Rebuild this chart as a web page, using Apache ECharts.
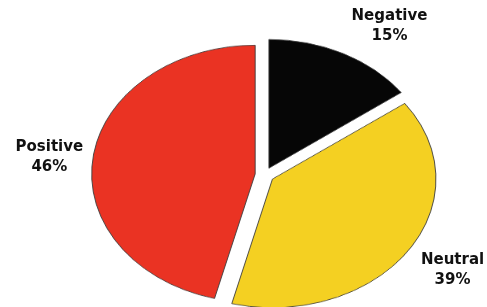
<!DOCTYPE html>
<html>
<head>
<meta charset="utf-8">
<script src="https://cdn.jsdelivr.net/npm/echarts@6/dist/echarts.min.js"></script>
<style>
  html, body { margin: 0; padding: 0; background: #fff; overflow: hidden; }
  #wrap { position: relative; width: 487px; height: 307px; }
  /* the pie is an ellipse in the picture: draw a circle and squash it */
  #pie { position: absolute; left: 0; top: 0; width: 487px; height: 390px;
         transform: scaleY(0.787); transform-origin: 0 0; }
  #labels { position: absolute; left: 0; top: 0; width: 487px; height: 307px; }
</style>
</head>
<body>
<div id="wrap">
  <div id="pie"></div>
  <div id="labels"></div>
</div>
<script>
var categories = ['Negative', 'Neutral', 'Positive'];
var values = [15, 39, 46];
var colors = ['#060606', '#F4D022', '#EA3323'];

var squash = 0.787;          // vertical scale of the ellipse
var cx = 264.6, cy = 174.8;  // pie centre in the picture
var radius = 163.5;

// 饼图
var pieOption = {
  animation: false,
  series: [
    {
      type: 'pie',
      startAngle: 90,
      radius: radius,
      center: [cx, cy / squash],
      selectedMode: 'multiple',
      selectedOffset: 9.5,
      label: { show: false },
      labelLine: { show: false },
      emphasis: { disabled: true },
      itemStyle: { borderColor: '#3c3c3c', borderWidth: 0.9 },
      data: categories.map(function (name, i) {
        return { name: name, value: values[i], selected: true, itemStyle: { color: colors[i] } };
      })
    }
  ]
};
var pieChart = echarts.init(document.getElementById('pie'));
pieChart.setOption(pieOption);

// labels sit round the ellipse on each slice's middle angle
var labelDist = 220;
var labelNudge = [[25, 6], [6, -2], [3, 4]];
var total = values.reduce(function (a, b) { return a + b; }, 0);
var texts = [];
var acc = 0;
for (var i = 0; i < values.length; i++) {
  var mid = (acc + values[i] / 2) / total * 2 * Math.PI;
  acc += values[i];
  texts.push({
    type: 'text',
    x: cx + labelDist * Math.sin(mid) + labelNudge[i][0],
    y: cy - labelDist * squash * Math.cos(mid) + labelNudge[i][1],
    style: {
      text: categories[i] + '\n' + Math.round(values[i] / total * 100) + '%',
      fill: '#111',
      fontFamily: 'DejaVu Sans',
      fontWeight: 'bold',
      fontSize: 15,
      lineHeight: 20,
      align: 'center',
      verticalAlign: 'middle'
    }
  });
}
var labelChart = echarts.init(document.getElementById('labels'));
labelChart.setOption({ animation: false, graphic: texts });
</script>
</body>
</html>
